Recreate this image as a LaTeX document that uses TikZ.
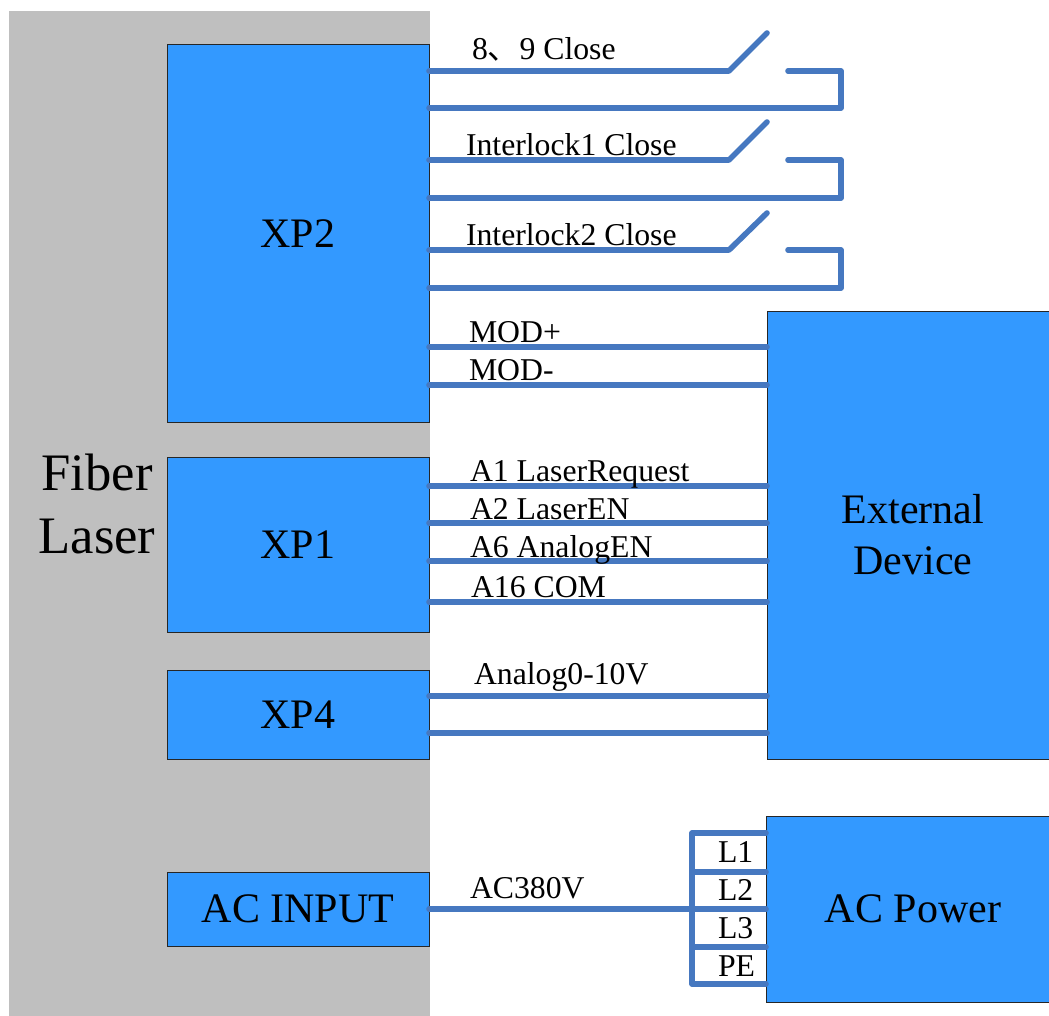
\documentclass[tikz,border=0pt]{standalone}
\usepackage{fontspec}
\setmainfont{Liberation Serif}
\newfontfamily\cjkf{Noto Sans CJK SC}
\definecolor{boxblue}{HTML}{3399FF}
\definecolor{wire}{HTML}{4678C0}
\definecolor{panel}{HTML}{BFBFBF}
\tikzset{
  x=0.75pt,y=-0.75pt,
  block/.style={draw=black!85,line width=0.75pt,fill=boxblue,inner sep=0pt,outer sep=0pt,align=center,font=\fontsize{31.5pt}{38.25pt}\selectfont},
  wirel/.style={draw=wire,line width=4.2pt,line cap=round,line join=round},
  lab/.style={anchor=base west,inner sep=0pt,outer sep=0pt,font=\fontsize{23.8pt}{28pt}\selectfont},
}
\newcommand{\blk}[6]{\node[block,minimum width=#3*0.75pt-#2*0.75pt,minimum height=#5*0.75pt-#4*0.75pt] (#1) at ({(#2+#3)/2},{(#4+#5)/2}) {#6};}
\begin{document}
\begin{tikzpicture}
\useasboundingbox (0,0) rectangle (1049,1016);
\fill[white] (0,0) rectangle (1049,1016);
\node[fill=panel,inner sep=0pt,outer sep=0pt,minimum width=315.75pt,minimum height=753.75pt] (panelbox) at (219.5,513.5) {};
\node[inner sep=0pt,align=center,font=\fontsize{39.5pt}{47.25pt}\selectfont] (fiber) at (97,504) {Fiber\\Laser};
\blk{xptwo}{167}{429}{45}{422}{XP2}
\blk{xpone}{167}{429}{457}{632}{XP1}
\blk{xpfour}{167}{429}{670}{759}{XP4}
\blk{acin}{167}{429}{872}{946}{AC INPUT}
\blk{ext}{767}{1059}{311}{759}{External\\Device}
\blk{acp}{766}{1060}{816}{1002}{AC Power}
% switches
\coordinate (s1a) at (729,71); \coordinate (s1t) at (767,33); \coordinate (s1b) at (788,71); \coordinate (s1c) at (841,71); \coordinate (s1d) at (841,108);
\coordinate (s2a) at (729,160); \coordinate (s2t) at (767,122); \coordinate (s2b) at (788,160); \coordinate (s2c) at (841,160); \coordinate (s2d) at (841,198);
\coordinate (s3a) at (729,250); \coordinate (s3t) at (767,213); \coordinate (s3b) at (788,250); \coordinate (s3c) at (841,250); \coordinate (s3d) at (841,288);
\foreach \i in {1,2,3}{
  \draw[wirel] (xptwo.east |- s\i a) -- (s\i a) -- (s\i t);
  \draw[wirel] (s\i b) -- (s\i c) -- (s\i d) -- (xptwo.east |- s\i d);
}
% straight wires
\foreach \y in {347,385}{\draw[wirel] (xptwo.east |- 0,\y) -- (ext.west |- 0,\y);}
\foreach \y in {486,523,561,602}{\draw[wirel] (xpone.east |- 0,\y) -- (ext.west |- 0,\y);}
\foreach \y in {696,733}{\draw[wirel] (xpfour.east |- 0,\y) -- (ext.west |- 0,\y);}
% AC
\coordinate (bus) at (692,909);
\draw[wirel] (acin.east |- bus) -- (bus);
\draw[wirel] (acp.west |- 0,833) -- (bus |- 0,833) -- (bus |- 0,984) -- (acp.west |- 0,984);
\foreach \y in {872,909,947}{\draw[wirel] (bus |- 0,\y) -- (acp.west |- 0,\y);}
% labels
\node[lab] (l1) at (472,60) {8{\cjkf 、}9 Close};
\node[lab] (l2) at (466,156) {Interlock1 Close};
\node[lab] (l3) at (466,246) {Interlock2 Close};
\node[lab] (l4) at (469,342) {MOD+};
\node[lab] (l5) at (469,380.5) {MOD-};
\node[lab] (l6) at (470,481) {A1 LaserRequest};
\node[lab] (l7) at (470,519) {A2 LaserEN};
\node[lab] (l8) at (470,557) {A6 AnalogEN};
\node[lab] (l9) at (471,597) {A16 COM};
\node[lab] (l10) at (474,684.5) {Analog0-10V};
\node[lab] (l11) at (470,898) {AC380V};
\node[lab] (l12) at (718,862) {L1};
\node[lab] (l13) at (718,900) {L2};
\node[lab] (l14) at (718,938) {L3};
\node[lab] (l15) at (718,976) {PE};
\end{tikzpicture}
\end{document}
